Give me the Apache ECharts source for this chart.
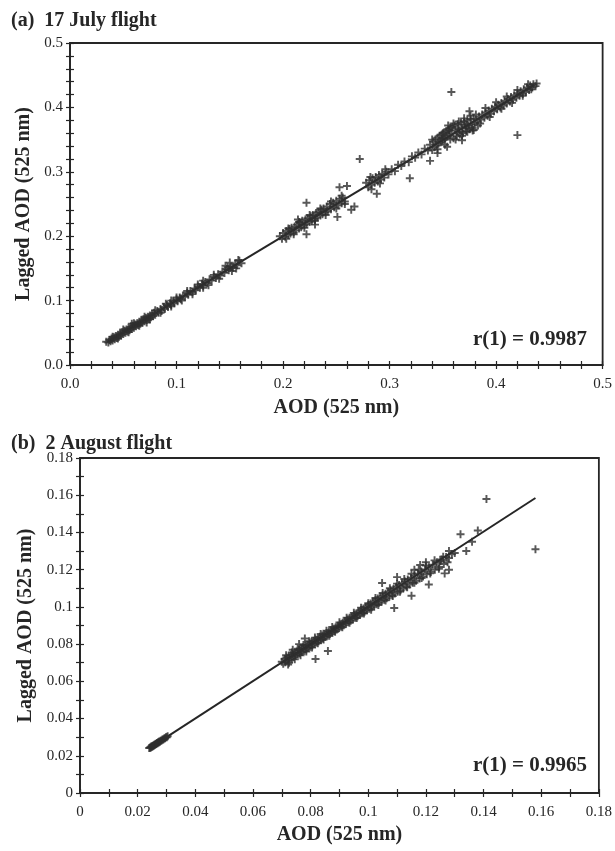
<!DOCTYPE html>
<html><head><meta charset="utf-8">
<script src="https://cdn.jsdelivr.net/npm/echarts@6/dist/echarts.min.js"></script>
<style>html,body{margin:0;padding:0;background:#fff}#c{width:615px;height:851px}</style>
</head><body><div id="c"></div>
<script>
// ---- Panel (a): 17 July flight ----
const titleA = '(a)  17 July flight';
const rA = 'r(1) = 0.9987';
const pointsA = [
[0.034,0.036],[0.036,0.035],[0.037,0.039],[0.038,0.037],[0.039,0.041],[0.040,0.038],[0.041,0.043],[0.042,0.040],
[0.043,0.045],[0.044,0.042],[0.045,0.047],[0.046,0.044],[0.047,0.049],[0.048,0.046],[0.049,0.051],[0.050,0.048],
[0.051,0.053],[0.052,0.050],[0.053,0.055],[0.054,0.052],[0.055,0.057],[0.056,0.054],[0.057,0.059],[0.058,0.056],
[0.059,0.061],[0.060,0.058],[0.061,0.063],[0.062,0.060],[0.063,0.065],[0.064,0.062],[0.065,0.067],[0.066,0.064],
[0.067,0.069],[0.068,0.066],[0.069,0.071],[0.070,0.068],[0.071,0.073],[0.072,0.070],[0.073,0.075],[0.074,0.072],
[0.075,0.077],[0.076,0.074],[0.077,0.079],[0.078,0.076],[0.079,0.081],[0.080,0.078],[0.082,0.084],[0.083,0.081],
[0.085,0.087],[0.086,0.084],[0.088,0.090],[0.089,0.087],[0.091,0.093],[0.092,0.090],[0.094,0.096],[0.095,0.093],
[0.097,0.099],[0.098,0.096],[0.100,0.102],[0.101,0.099],[0.103,0.105],[0.104,0.102],[0.106,0.108],[0.108,0.106],
[0.110,0.112],[0.111,0.109],[0.113,0.115],[0.115,0.113],[0.117,0.119],[0.118,0.116],[0.120,0.122],[0.122,0.120],
[0.124,0.126],[0.125,0.123],[0.127,0.129],[0.129,0.127],[0.131,0.133],[0.133,0.131],[0.135,0.137],[0.137,0.135],
[0.139,0.141],[0.141,0.139],[0.143,0.145],[0.145,0.143],[0.147,0.149],[0.149,0.147],[0.151,0.153],[0.153,0.151],
[0.155,0.157],[0.157,0.155],[0.159,0.162],[0.161,0.158],
[0.058,0.064],[0.072,0.066],[0.095,0.100],[0.150,0.159],[0.156,0.150],[0.146,0.154],[0.125,0.131],[0.130,0.124],
[0.197,0.200],[0.199,0.196],[0.200,0.205],[0.202,0.199],[0.203,0.208],[0.205,0.202],[0.206,0.211],[0.207,0.204],
[0.208,0.213],[0.210,0.206],[0.211,0.215],[0.212,0.209],[0.213,0.218],[0.215,0.212],[0.216,0.221],[0.217,0.214],
[0.218,0.224],[0.220,0.217],[0.221,0.226],[0.222,0.219],[0.223,0.228],[0.225,0.222],[0.226,0.231],[0.227,0.224],
[0.228,0.233],[0.230,0.227],[0.231,0.236],[0.232,0.229],[0.233,0.238],[0.235,0.232],[0.236,0.241],[0.237,0.234],
[0.238,0.243],[0.240,0.237],[0.241,0.246],[0.242,0.239],[0.244,0.250],[0.245,0.242],[0.247,0.252],[0.248,0.245],
[0.250,0.255],[0.252,0.248],[0.253,0.258],[0.255,0.251],[0.256,0.260],[0.258,0.254],
[0.222,0.252],[0.222,0.203],[0.203,0.196],[0.253,0.276],[0.260,0.278],[0.251,0.230],[0.264,0.241],[0.267,0.246],
[0.278,0.283],[0.280,0.276],[0.281,0.287],[0.283,0.280],[0.284,0.290],[0.286,0.283],[0.287,0.292],[0.289,0.285],
[0.290,0.295],[0.292,0.288],[0.293,0.297],[0.295,0.291],[0.297,0.300],[0.299,0.296],[0.283,0.273],[0.288,0.266],
[0.302,0.304],[0.305,0.301],[0.308,0.311],[0.311,0.309],[0.314,0.316],[0.318,0.315],[0.321,0.324],[0.324,0.322],
[0.327,0.330],[0.330,0.327],[0.333,0.336],[0.336,0.333],
[0.338,0.342],[0.340,0.334],[0.341,0.347],[0.342,0.338],[0.343,0.350],[0.344,0.341],[0.345,0.353],[0.346,0.344],
[0.347,0.356],[0.348,0.346],[0.349,0.358],[0.350,0.349],[0.351,0.361],[0.352,0.352],[0.353,0.363],[0.354,0.355],
[0.355,0.366],[0.356,0.357],[0.357,0.368],[0.358,0.360],[0.359,0.370],[0.360,0.352],[0.361,0.372],[0.362,0.364],
[0.363,0.355],[0.364,0.374],[0.365,0.366],[0.366,0.358],[0.367,0.376],[0.368,0.368],[0.369,0.360],[0.370,0.378],
[0.371,0.370],[0.372,0.363],[0.373,0.380],[0.374,0.372],[0.375,0.366],[0.376,0.382],[0.377,0.374],[0.378,0.368],
[0.379,0.383],[0.380,0.376],[0.382,0.378],[0.383,0.372],[0.384,0.386],[0.386,0.381],[0.387,0.389],[0.389,0.384],
[0.390,0.392],[0.392,0.387],[0.393,0.395],[0.395,0.390],[0.396,0.398],[0.398,0.394],[0.399,0.401],[0.401,0.397],
[0.402,0.404],[0.404,0.400],[0.405,0.407],[0.407,0.403],[0.408,0.410],[0.410,0.406],[0.411,0.413],[0.413,0.409],
[0.414,0.416],[0.416,0.412],[0.417,0.419],[0.419,0.415],[0.420,0.422],[0.422,0.418],[0.423,0.425],[0.425,0.421],
[0.426,0.428],[0.428,0.424],[0.429,0.431],[0.431,0.427],[0.432,0.434],[0.434,0.431],[0.435,0.436],[0.437,0.433],
[0.438,0.437],
[0.358,0.424],[0.420,0.357],[0.375,0.394],[0.338,0.317],[0.319,0.290],[0.272,0.320],[0.345,0.329],[0.354,0.339],
[0.368,0.349],[0.379,0.365]
];
const pointsA2 = [
[0.040,0.044],[0.045,0.041],[0.050,0.055],[0.055,0.051],[0.060,0.065],[0.065,0.061],[0.070,0.075],[0.075,0.071],
[0.080,0.085],[0.085,0.081],[0.090,0.095],[0.095,0.091],[0.100,0.105],[0.105,0.100],[0.110,0.115],[0.115,0.110],
[0.120,0.125],[0.125,0.120],[0.135,0.140],[0.140,0.134],[0.148,0.152],[0.152,0.146],[0.158,0.163],
[0.205,0.212],[0.210,0.203],[0.215,0.222],[0.220,0.213],[0.225,0.233],[0.230,0.224],[0.235,0.243],[0.240,0.233],
[0.245,0.254],[0.250,0.243],[0.255,0.263],[0.258,0.250],[0.214,0.226],[0.230,0.218],
[0.282,0.292],[0.291,0.282],[0.296,0.304],
[0.340,0.350],[0.345,0.335],[0.350,0.360],[0.352,0.342],[0.355,0.372],[0.357,0.350],[0.360,0.375],[0.362,0.350],
[0.365,0.378],[0.368,0.356],[0.370,0.383],[0.373,0.362],[0.376,0.387],[0.378,0.364],[0.381,0.389],[0.385,0.375],
[0.390,0.399],[0.394,0.385],[0.400,0.408],[0.405,0.398],[0.410,0.417],[0.415,0.407],[0.420,0.427],[0.425,0.418],
[0.430,0.436],[0.433,0.428],[0.356,0.364],[0.364,0.362],[0.372,0.373],[0.349,0.352]
];
const fitA = [[0.035,0.0355],[0.436,0.435]];
const axisA = {min:0, max:0.5, step:0.1, minorSplit:5};

// ---- Panel (b): 2 August flight ----
const titleB = '(b)  2 August flight';
const rB = 'r(1) = 0.9965';
const pointsB = [
[0.0240,0.0242],[0.0243,0.0245],[0.0245,0.0243],[0.0247,0.0250],[0.0249,0.0247],[0.0251,0.0253],[0.0253,0.0251],
[0.0255,0.0257],[0.0257,0.0255],[0.0259,0.0261],[0.0261,0.0259],[0.0263,0.0265],[0.0265,0.0263],[0.0267,0.0269],
[0.0269,0.0267],[0.0271,0.0273],[0.0273,0.0271],[0.0275,0.0277],[0.0277,0.0276],[0.0280,0.0281],[0.0283,0.0282],
[0.0286,0.0287],[0.0289,0.0288],[0.0292,0.0293],[0.0295,0.0294],[0.0298,0.0299],[0.0301,0.0300],[0.0304,0.0305],
[0.0700,0.0705],[0.0705,0.0695],[0.0710,0.0720],[0.0712,0.0703],[0.0716,0.0728],[0.0720,0.0710],[0.0724,0.0733],
[0.0727,0.0716],[0.0731,0.0740],[0.0735,0.0722],[0.0738,0.0745],[0.0742,0.0730],[0.0745,0.0752],[0.0749,0.0737],
[0.0752,0.0760],[0.0756,0.0744],[0.0760,0.0768],[0.0763,0.0750],[0.0767,0.0775],[0.0770,0.0757],[0.0774,0.0782],
[0.0778,0.0764],[0.0781,0.0790],[0.0785,0.0771],[0.0788,0.0797],[0.0792,0.0779],[0.0796,0.0804],[0.0799,0.0786],
[0.0803,0.0811],[0.0806,0.0793],[0.0810,0.0818],[0.0814,0.0800],[0.0817,0.0825],[0.0821,0.0808],[0.0825,0.0832],
[0.0828,0.0815],[0.0832,0.0839],[0.0836,0.0823],[0.0840,0.0846],[0.0843,0.0830],[0.0847,0.0853],[0.0851,0.0838],
[0.0855,0.0860],[0.0859,0.0846],[0.0863,0.0867],[0.0867,0.0854],[0.0871,0.0875],[0.0875,0.0862],[0.0879,0.0883],
[0.0883,0.0870],[0.0887,0.0891],[0.0891,0.0878],[0.0895,0.0899],[0.0899,0.0886],[0.0903,0.0907],[0.0907,0.0894],
[0.0911,0.0915],[0.0915,0.0902],[0.0919,0.0924],[0.0923,0.0910],[0.0927,0.0932],[0.0931,0.0918],[0.0935,0.0941],
[0.0939,0.0926],[0.0943,0.0949],[0.0947,0.0934],[0.0951,0.0958],[0.0955,0.0942],[0.0959,0.0966],[0.0963,0.0950],
[0.0967,0.0975],[0.0971,0.0958],[0.0975,0.0983],[0.0979,0.0966],[0.0983,0.0992],[0.0987,0.0974],[0.0991,0.1000],
[0.0995,0.0982],[0.1000,0.1010],[0.1004,0.0990],[0.1008,0.1018],[0.1012,0.0998],[0.1016,0.1027],[0.1020,0.1006],
[0.1025,0.1036],[0.1029,0.1014],[0.1033,0.1045],[0.1037,0.1022],[0.1042,0.1054],[0.1046,0.1030],[0.1050,0.1062],
[0.1055,0.1038],[0.1060,0.1071],[0.1064,0.1046],[0.1069,0.1080],[0.1073,0.1055],[0.1078,0.1089],[0.1083,0.1063],
[0.1088,0.1098],[0.1092,0.1072],[0.1097,0.1108],[0.1102,0.1081],[0.1107,0.1118],[0.1112,0.1090],[0.1117,0.1127],
[0.1122,0.1100],[0.1127,0.1137],[0.1132,0.1110],[0.1137,0.1147],[0.1143,0.1120],[0.1148,0.1157],[0.1154,0.1130],
[0.1160,0.1168],[0.1166,0.1140],[0.1172,0.1178],[0.1178,0.1152],[0.1184,0.1190],[0.1190,0.1163],[0.1197,0.1201],
[0.1203,0.1175],[0.1210,0.1213],[0.1217,0.1188],[0.1224,0.1226],[0.1231,0.1200],[0.1238,0.1240],[0.1246,0.1214],
[0.1254,0.1255],[0.1262,0.1230],[0.1270,0.1268],[0.1280,0.1262],[0.1290,0.1283],[0.1300,0.1290],
[0.0760,0.0800],[0.0780,0.0830],[0.0817,0.0720],[0.0860,0.0763],[0.1048,0.1128],[0.1090,0.0994],[0.1150,0.1060],
[0.1210,0.1120],[0.1265,0.1180],[0.1280,0.1200],[0.1180,0.1225],[0.1200,0.1240],[0.1250,0.1245],[0.1280,0.1300],
[0.1320,0.1390],[0.1340,0.1300],[0.1380,0.1410],[0.1410,0.1580],[0.1580,0.1310],[0.1360,0.1350],[0.1100,0.1160],
[0.1160,0.1200]
];
const pointsB2 = [
[0.0715,0.0740],[0.0725,0.0700],[0.0735,0.0755],[0.0745,0.0718],[0.0755,0.0775],[0.0765,0.0740],[0.0775,0.0795],
[0.0785,0.0760],[0.0795,0.0815],[0.0805,0.0782],[0.0815,0.0835],[0.0825,0.0805],[0.0835,0.0855],[0.0845,0.0825],
[0.0855,0.0872],[0.0865,0.0845],[0.0875,0.0892],[0.0885,0.0866],[0.0900,0.0917],[0.0910,0.0890],[0.0925,0.0942],
[0.0935,0.0915],[0.0950,0.0968],[0.0960,0.0940],[0.0975,0.0995],[0.0985,0.0965],[0.1000,0.1020],[0.1010,0.0985],
[0.1025,0.1048],[0.1035,0.1010],[0.1050,0.1075],[0.1060,0.1035],[0.1075,0.1100],[0.1085,0.1058],[0.1100,0.1125],
[0.1110,0.1082],[0.1125,0.1150],[0.1135,0.1105],[0.1150,0.1178],[0.1160,0.1130],[0.1175,0.1200],[0.1185,0.1155],
[0.1200,0.1222],[0.1215,0.1180],[0.1230,0.1250],[0.1245,0.1205],[0.1260,0.1270],[0.1275,0.1240],[0.0722,0.0690],
[0.0738,0.0770]
];
const fitB = [[0.024,0.0240],[0.158,0.1585]];
const axisB = {min:0, max:0.18, step:0.02, minorSplit:2};

const xName = 'AOD (525 nm)';
const yName = 'Lagged AOD (525 nm)';

const FONT = '"Liberation Serif", "DejaVu Serif", serif';
const INK = '#262626';
const MARK = '#2e2e2e';
const plus = 'path://M0.38,0H0.62V0.38H1V0.62H0.62V1H0.38V0.62H0V0.38H0.38Z';

function axes(grid, ax, fmt, name, nameGap, isY) {
  const common = {
    type: 'value', gridIndex: grid, min: ax.min, max: ax.max, interval: ax.step,
    position: isY ? 'left' : 'bottom', splitLine: {show: false}
  };
  const main = Object.assign({}, common, {
    name: name, nameLocation: 'middle', nameGap: nameGap, nameRotate: isY ? 90 : 0,
    nameTextStyle: {fontFamily: FONT, fontWeight: 'bold', fontSize: 20, color: INK},
    axisLine: {show: true, lineStyle: {color: INK, width: 1.8}},
    axisTick: {show: true, inside: false, length: 4, lineStyle: {color: INK, width: 1.2}},
    minorTick: {show: true, splitNumber: ax.minorSplit, length: 4, lineStyle: {color: INK, width: 1.2}},
    axisLabel: {show: true, formatter: fmt, fontFamily: FONT, fontSize: 15, color: INK, margin: isY ? 7 : 12, showMaxLabel: true, showMinLabel: true}
  });
  const dup = Object.assign({}, common, {
    axisLine: {show: false},
    axisTick: {show: true, inside: true, length: 4, lineStyle: {color: INK, width: 1.2}},
    minorTick: {show: true, splitNumber: ax.minorSplit, length: 4, lineStyle: {color: INK, width: 1.2}},
    axisLabel: {show: false}
  });
  return [main, dup];
}

const fmtA = v => v.toFixed(1);
const fmtB = v => String(Math.round(v * 100) / 100);

const [xa, xa2] = axes(0, axisA, fmtA, xName, 33, false);
const [ya, ya2] = axes(0, axisA, fmtA, yName, 28, true);
const [xb, xb2] = axes(1, axisB, fmtB, xName, 32, false);
const [yb, yb2] = axes(1, axisB, fmtB, yName, 36, true);

const scatterStyle = {symbol: plus, symbolSize: 8, itemStyle: {color: MARK}, z: 3};

const option = {
  animation: false,
  backgroundColor: '#ffffff',
  title: [
    {text: titleA, left: 6, top: 6, textStyle: {fontFamily: FONT, fontWeight: 'bold', fontSize: 20, color: INK}},
    {text: titleB, left: 6, top: 429, textStyle: {fontFamily: FONT, fontWeight: 'bold', fontSize: 20, color: INK}}
  ],
  grid: [
    {left: 70, top: 43, width: 534, height: 322, show: true, borderColor: INK, borderWidth: 1.8, backgroundColor: 'transparent'},
    {left: 80, top: 458, width: 522, height: 335, show: true, borderColor: INK, borderWidth: 1.8, backgroundColor: 'transparent'}
  ],
  xAxis: [xa, xa2, xb, xb2],
  yAxis: [ya, ya2, yb, yb2],
  graphic: [
    {type: 'text', right: 28, top: 329, style: {text: rA, font: 'bold 21px ' + FONT, fill: INK}},
    {type: 'text', right: 28, top: 755, style: {text: rB, font: 'bold 21px ' + FONT, fill: INK}}
  ],
  series: [
    Object.assign({type: 'scatter', xAxisIndex: 0, yAxisIndex: 0, data: pointsA}, scatterStyle),
    Object.assign({type: 'scatter', xAxisIndex: 0, yAxisIndex: 0, data: pointsA2}, scatterStyle),
    {type: 'line', xAxisIndex: 0, yAxisIndex: 0, data: fitA, symbol: 'none', lineStyle: {color: INK, width: 2}, z: 2},
    Object.assign({type: 'scatter', xAxisIndex: 2, yAxisIndex: 2, data: pointsB}, scatterStyle),
    Object.assign({type: 'scatter', xAxisIndex: 2, yAxisIndex: 2, data: pointsB2}, scatterStyle),
    {type: 'line', xAxisIndex: 2, yAxisIndex: 2, data: fitB, symbol: 'none', lineStyle: {color: INK, width: 2}, z: 2}
  ]
};
const chart = echarts.init(document.getElementById('c'), null, {renderer: 'canvas'});
chart.setOption(option);
</script></body></html>
